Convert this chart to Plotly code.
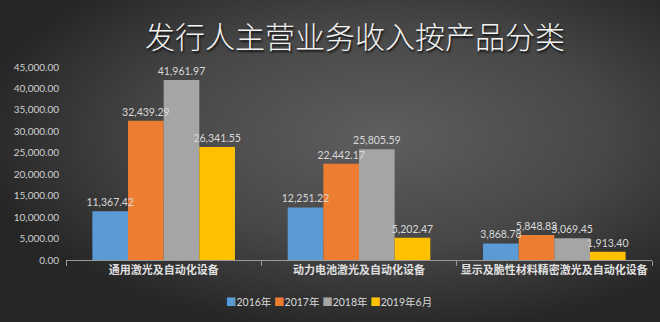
import base64
import plotly.graph_objects as go

# Revenue by product line (万元)
categories = ["通用激光及自动化设备", "动力电池激光及自动化设备", "显示及脆性材料精密激光及自动化设备"]
periods = ["2016年", "2017年", "2018年", "2019年6月"]
values_2016 = [11367.42, 12251.22, 3868.78]
values_2017 = [32439.29, 22442.17, 5848.83]
values_2018 = [41961.97, 25805.59, 5069.45]
values_2019h1 = [26341.55, 5202.47, 1913.40]
series_values = [values_2016, values_2017, values_2018, values_2019h1]
colors = ["#5b9bd5", "#ed7d31", "#a5a5a5", "#ffc000"]
y_ticks = [0, 5000, 10000, 15000, 20000, 25000, 30000, 35000, 40000, 45000]

W, H = 660, 322
ML, MR, MT, MB = 66, 8, 67, 62
PW, PH = W - ML - MR, H - MT - MB

# dark radial backdrop
svg = f"""<svg xmlns='http://www.w3.org/2000/svg' width='{W}' height='{H}' viewBox='0 0 {W} {H}' preserveAspectRatio='none'>
<defs><radialGradient id='g' cx='58%' cy='42%' r='62%' gradientUnits='objectBoundingBox'>
<stop offset='0' stop-color='#5e5e5e'/><stop offset='0.55' stop-color='#474747'/><stop offset='1' stop-color='#262626'/>
</radialGradient></defs><rect width='{W}' height='{H}' fill='url(#g)'/></svg>"""
bg_uri = "data:image/svg+xml;base64," + base64.b64encode(svg.encode()).decode()

label_font = dict(family="Lato, Liberation Sans, sans-serif", size=10.5, color="#d9d9d9")

fig = go.Figure()
# the bars themselves
for i, (name, vals, col) in enumerate(zip(periods, series_values, colors)):
    fig.add_trace(go.Bar(
        x=categories, y=vals, name=name, offsetgroup=str(i),
        marker=dict(color=col, line=dict(width=0)),
        hoverinfo="skip",
    ))
# value labels on a transparent copy drawn last, so no bar hides a label
for i, (name, vals) in enumerate(zip(periods, series_values)):
    fig.add_trace(go.Bar(
        x=categories, y=vals, name=name, offsetgroup=str(i),
        marker=dict(color="rgba(0,0,0,0)", line=dict(width=0)),
        text=[f"{v:,.2f}" for v in vals],
        textposition="outside", constraintext="none",
        textfont=label_font, cliponaxis=False, showlegend=False,
    ))

# compact legend line built from the series names and colours
legend_html = "&nbsp;".join(
    f"<span style='color:{c}'>■</span>{p}" for p, c in zip(periods, colors)
)

fig.update_layout(
    width=W, height=H,
    margin=dict(l=ML, r=MR, t=MT, b=MB, autoexpand=False),
    paper_bgcolor="#3a3a3a",
    plot_bgcolor="rgba(0,0,0,0)",
    barmode="group", bargap=0.27, bargroupgap=0,
    showlegend=False,
    title=dict(text="发行人主营业务收入按产品分类", x=355 / W, xanchor="center",
               y=1 - 37 / H, yanchor="middle",
               font=dict(family="Noto Sans CJK SC", size=30, color="#f2f2f2",
                         shadow="1px 2px 2px #111", weight=300)),
    annotations=[dict(text=legend_html, xref="paper", yref="paper",
                      x=(329 - ML) / PW, y=-(302 - MT - PH) / PH, xanchor="center", yanchor="middle",
                      showarrow=False,
                      font=dict(family="Lato, Noto Sans CJK SC, sans-serif", size=10.5, color="#d9d9d9"))],
    images=[dict(source=bg_uri, xref="paper", yref="paper",
                 x=-ML / PW, y=1 + MT / PH, sizex=W / PW, sizey=H / PH,
                 xanchor="left", yanchor="top", sizing="stretch", layer="below")],
)

fig.update_xaxes(
    type="category", showgrid=False, showline=True, linecolor="#9a9a9a", linewidth=1,
    ticks="outside", tickson="boundaries", ticklen=5, tickcolor="#9a9a9a",
    tickangle=0, automargin=False,
    tickfont=dict(family="Noto Sans CJK SC", size=11, color="#e0e0e0", weight="bold"),
)
fig.update_yaxes(
    range=[0, 45000], tickvals=y_ticks, ticktext=[f"{v:,.2f}" for v in y_ticks],
    showgrid=False, zeroline=False, showline=False, automargin=False,
    ticklabelstandoff=6,
    tickfont=dict(family="Lato, Liberation Sans, sans-serif", size=10, color="#d0d0d0"),
)

fig.write_html("out.html")
